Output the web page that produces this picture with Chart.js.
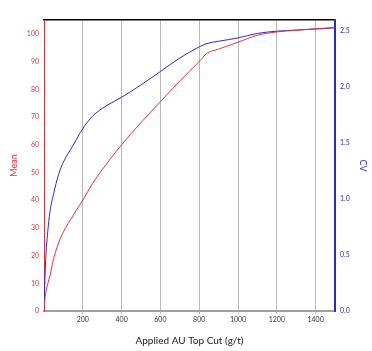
<!DOCTYPE html>
<html><head><meta charset="utf-8">
<script src="https://cdn.jsdelivr.net/npm/chart.js@4"></script>
<style>html,body{margin:0;padding:0;background:#fff}#wrap{width:372px;height:351px}</style>
</head><body><div id="wrap"><canvas id="c" width="372" height="351"></canvas></div>
<script>
const topCut = [0, 5, 10, 20, 30, 50, 75, 100, 150, 200, 250, 300, 400, 500, 600, 700, 800, 840, 900, 1000, 1100, 1200, 1300, 1400, 1500];
const meanVals = [0, 4.5, 7, 10, 12.5, 19, 24.5, 28.5, 34.5, 40, 46, 51, 60, 68, 75.5, 83, 90, 93, 94.5, 97, 99.5, 100.7, 101.3, 101.8, 102.3];
const cvVals = [0, 0.3, 0.5, 0.72, 0.88, 1.05, 1.22, 1.33, 1.48, 1.63, 1.74, 1.81, 1.91, 2.02, 2.14, 2.26, 2.36, 2.39, 2.41, 2.44, 2.48, 2.50, 2.51, 2.52, 2.53];
const xTicks = [200, 400, 600, 800, 1000, 1200, 1400];
const meanTicks = [0, 10, 20, 30, 40, 50, 60, 70, 80, 90, 100];
const cvTicks = [0, 0.5, 1, 1.5, 2, 2.5];

const RED = 'rgb(232,48,56)';
const BLUE = 'rgb(40,40,215)';
const FONT = 'Lato, "Open Sans", sans-serif';

new Chart(document.getElementById('c'), {
  type: 'line',
  data: {
    datasets: [
      { label: 'Mean', data: topCut.map((x, i) => ({x, y: meanVals[i]})), borderColor: RED, borderWidth: 1, pointRadius: 0, yAxisID: 'y', cubicInterpolationMode: 'monotone' },
      { label: 'CV', data: topCut.map((x, i) => ({x, y: cvVals[i]})), borderColor: BLUE, borderWidth: 1, pointRadius: 0, yAxisID: 'y2', cubicInterpolationMode: 'monotone' }
    ]
  },
  options: {
    responsive: false, animation: false,
    layout: { padding: { top: 20, left: 0, right: 0, bottom: 0 } },
    plugins: { legend: { display: false }, tooltip: { enabled: false } },
    scales: {
      x: {
        type: 'linear', min: 0, max: 1500,
        afterBuildTicks: a => { a.ticks = xTicks.map(v => ({value: v})); },
        afterFit: a => { a.height = 40; },
        border: { color: '#a0a0a0', width: 2 },
        grid: { color: '#b8b8b8', lineWidth: 1, drawTicks: true, tickLength: 3 },
        ticks: { color: '#333', font: { family: FONT, size: 7 }, padding: 2, maxRotation: 0, callback: v => String(v) },
        title: { display: true, text: 'Applied AU Top Cut (g/t)', color: '#222', font: { family: FONT, size: 10 }, padding: { top: 2 } }
      },
      xTop: {
        type: 'linear', position: 'top', min: 0, max: 1500,
        border: { color: '#000', width: 1.5 },
        grid: { display: false },
        ticks: { display: false },
        afterFit: a => { a.height = 0; }
      },
      y: {
        position: 'left', min: 0, max: 105,
        afterBuildTicks: a => { a.ticks = meanTicks.map(v => ({value: v})); },
        afterFit: a => { a.width = 44; },
        border: { color: RED, width: 1 },
        grid: { display: false, drawTicks: true, tickLength: 3 },
        ticks: { color: RED, font: { family: FONT, size: 7 }, padding: 2 },
        title: { display: true, text: 'Mean', color: RED, font: { family: FONT, size: 9 }, padding: { top: 9, bottom: 4 } }
      },
      y2: {
        position: 'right', min: 0, max: 2.6,
        afterBuildTicks: a => { a.ticks = cvTicks.map(v => ({value: v})); },
        afterFit: a => { a.width = 37; },
        border: { color: BLUE, width: 2 },
        grid: { display: false, drawOnChartArea: false, tickLength: 3 },
        ticks: { color: BLUE, font: { family: FONT, size: 7 }, padding: 2, callback: v => v.toFixed(1) },
        title: { display: true, text: 'CV', color: BLUE, font: { family: FONT, size: 9 }, padding: { top: 4, bottom: 4 } }
      }
    }
  }
});
</script></body></html>
